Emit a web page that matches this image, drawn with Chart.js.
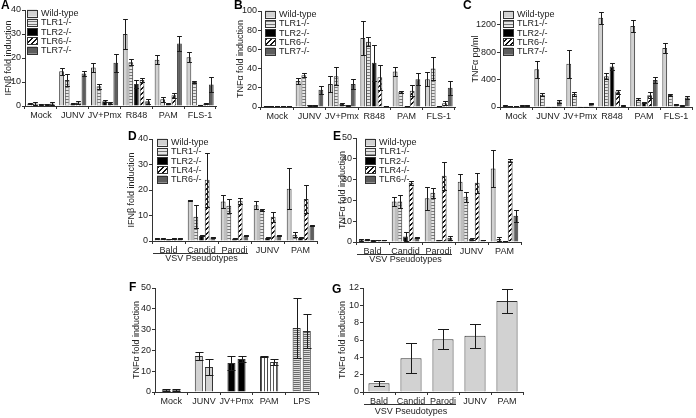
<!DOCTYPE html>
<html>
<head>
<meta charset="utf-8">
<script src="https://cdn.jsdelivr.net/npm/chart.js@4.4.1/dist/chart.umd.min.js"></script>
<style>
  body { margin: 0; background: #fff; }
  #page { position: relative; width: 696px; height: 418px; overflow: hidden; }
  #page canvas { position: absolute; }
</style>
</head>
<body>
<div id="page"></div>
<script>
// ---- Data ----
const aCategories = ['Mock', 'JUNV', 'JV+Pmx', 'R848', 'PAM', 'FLS-1'];
const aWT = [1, 14.5, 16, 30, 19.3, 20.3];
const aWTErr = [0.3, 1.5, 2, 6.3, 2, 2];
const aTLR1 = [1, 10.8, 8.2, 18.2, 2.8, 10];
const aTLR1Err = [0.5, 2.5, 1, 1.3, 1, 0.3];
const aTLR2 = [0.8, 1, 2, 9.2, 1, 0.5];
const aTLR2Err = [0.2, 0.3, 0.3, 1.5, 0.2, 0.1];
const aTLR6 = [0.8, 1.5, 1.2, 10.8, 4.5, 1];
const aTLR6Err = [0.2, 0.5, 0.3, 1, 1, 0.3];
const aTLR7 = [1, 13.5, 18, 2, 26, 9];
const aTLR7Err = [0.5, 1, 3.7, 1, 3, 3];

const bWT = [1, 27, 24, 72, 37, 29];
const bWTErr = [0.3, 3.5, 8, 18, 5, 7.5];
const bTLR1 = [1, 33, 32, 68, 16, 40];
const bTLR1Err = [0.2, 2, 9.5, 4.5, 1, 12];
const bTLR2 = [1, 2, 3, 46, 1, 1];
const bTLR2Err = [0.2, 0.5, 1, 19, 0.3, 0.3];
const bTLR6 = [1, 2, 2, 31, 17, 4];
const bTLR6Err = [0.2, 0.5, 0.5, 13, 5.5, 2];
const bTLR7 = [1, 18, 24, 1, 29, 20];
const bTLR7Err = [0.2, 4, 5, 0.2, 6.5, 7];

const cWT = [20, 550, 630, 1300, 1180, 860];
const cWTErr = [5, 120, 200, 85, 85, 70];
const cTLR1 = [15, 180, 190, 450, 110, 175];
const cTLR1Err = [3, 25, 25, 45, 15, 10];
const cTLR2 = [10, 5, 5, 590, 65, 40];
const cTLR2Err = [2, 2, 2, 50, 8, 5];
const cTLR6 = [20, 5, 5, 225, 170, 25];
const cTLR6Err = [3, 2, 2, 30, 45, 5];
const cTLR7 = [25, 80, 55, 20, 395, 140];
const cTLR7Err = [5, 15, 10, 5, 40, 20];

const vsvCategories = ['Bald', 'Candid', 'Parodi', 'JUNV', 'PAM'];
const dWT = [1, 16, 15.5, 14, 20.5];
const dWTErr = [0.2, 0.2, 2.5, 1.5, 8];
const dTLR1 = [1, 9.5, 13.8, 12.2, 2.5];
const dTLR1Err = [0.2, 4.5, 2.8, 0.3, 1];
const dTLR2 = [0.8, 2, 1, 1.2, 1.3];
const dTLR2Err = [0.1, 0.2, 0.2, 0.2, 0.2];
const dTLR4 = [1, 24, 15.8, 9.5, 16.5];
const dTLR4Err = [0.2, 10.5, 1.2, 2, 5.5];
const dTLR6 = [1, 1.5, 2, 2, 6];
const dTLR6Err = [0.1, 0.2, 0.2, 0.2, 0.3];

const eWT = [1, 19.5, 21, 29, 35.3];
const eWTErr = [0.3, 2, 5.5, 3.8, 8.7];
const eTLR1 = [1.2, 19.5, 23.7, 21.8, 1.5];
const eTLR1Err = [0.3, 3, 2.5, 2.4, 0.8];
const eTLR2 = [0.8, 2.7, 1, 1.5, 0.5];
const eTLR2Err = [0.1, 2, 0.2, 0.5, 0.1];
const eTLR4 = [1, 28.5, 31.9, 28.5, 39.1];
const eTLR4Err = [0.2, 1, 6.7, 4.9, 0.6];
const eTLR6 = [1, 2.2, 2, 1, 12.6];
const eTLR6Err = [0.1, 0.3, 1, 0.2, 3];

const fCategories = ['Mock', 'JUNV', 'JV+Pmx', 'PAM', 'LPS'];
const fRep1 = [1, 17.3, 13.9, 17.1, 30.8];
const fRep1Err = [0.3, 2, 3.5, 0.2, 14.4];
const fRep2 = [1, 12, 15.9, 14.4, 29.3];
const fRep2Err = [0.3, 3.8, 1.6, 1.5, 8];

const gValues = [1, 3.9, 6.1, 6.5, 10.5];
const gErr = [0.3, 1.7, 1.15, 1.4, 1.4];

// ---- Styles ----
const FONT = '"Liberation Sans", Arial, sans-serif';
const AXIS = '#333';
const TEXT = '#222';
const LIGHT = '#d2d2d2';
const DARK = '#5e5e5e';
Chart.defaults.font.family = FONT;
Chart.defaults.font.size = 9;
Chart.defaults.color = TEXT;

function makePattern(w, h, draw) {
    const c = document.createElement('canvas');
    c.width = w;
    c.height = h;
    const g = c.getContext('2d');
    draw(g);
    return g.createPattern(c, 'repeat');
}

const hStripes = makePattern(1, 3, g => {
    g.fillStyle = '#e6e6e6'; g.fillRect(0, 0, 1, 3);
    g.fillStyle = '#777'; g.fillRect(0, 0, 1, 1);
});
const hatch = makePattern(5, 5, g => {
    g.fillStyle = '#fff'; g.fillRect(0, 0, 5, 5);
    g.fillStyle = '#111';
    for (let i = 0; i < 5; i++) {
        g.fillRect(4 - i, i, 1, 1);
        g.fillRect((5 - i) % 5, i, 1, 1);
    }
});
const vStripes = makePattern(3, 1, g => {
    g.fillStyle = '#fff'; g.fillRect(0, 0, 3, 1);
    g.fillStyle = '#555'; g.fillRect(0, 0, 1, 1);
});
const lpsStripes = makePattern(1, 2, g => {
    g.fillStyle = '#e0e0e0'; g.fillRect(0, 0, 1, 2);
    g.fillStyle = '#6a6a6a'; g.fillRect(0, 0, 1, 1);
});

// ---- Plugins ----
const errorBars = {
    id: 'errorBars',
    afterDatasetsDraw(chart) {
        const ctx = chart.ctx;
        const y = chart.scales.y;
        ctx.save();
        ctx.strokeStyle = '#1a1a1a';
        ctx.lineWidth = 1;
        chart.data.datasets.forEach((ds, i) => {
            if (!ds.errors) return;
            chart.getDatasetMeta(i).data.forEach((bar, j) => {
                const v = ds.data[j];
                const e = ds.errors[j];
                const top = Math.round(y.getPixelForValue(v + e)) + 0.5;
                const bot = Math.round(y.getPixelForValue(Math.max(0, v - e))) + 0.5;
                const x = Math.round(bar.x) + 0.5;
                const cap = Math.min(bar.width / 2, 5.5);
                ctx.beginPath();
                ctx.moveTo(x, top); ctx.lineTo(x, bot);
                ctx.moveTo(x - cap, top); ctx.lineTo(x + cap, top);
                ctx.moveTo(x - cap, bot); ctx.lineTo(x + cap, bot);
                ctx.stroke();
            });
        });
        ctx.restore();
    }
};

// legend drawn inside the plot, one box per dataset
const boxLegend = {
    id: 'boxLegend',
    afterDraw(chart, args, opts) {
        if (!opts.show) return;
        const ctx = chart.ctx;
        ctx.save();
        ctx.font = '9px ' + FONT;
        ctx.textBaseline = 'middle';
        chart.data.datasets.forEach((ds, i) => {
            const cy = opts.y + i * opts.step;
            ctx.fillStyle = ds.backgroundColor;
            ctx.fillRect(opts.x, cy - 3.5, 10, 7);
            ctx.strokeStyle = AXIS;
            ctx.lineWidth = 1;
            ctx.strokeRect(opts.x + 0.5, Math.round(cy - 3.5) + 0.5, 10, 7);
            ctx.fillStyle = TEXT;
            ctx.fillText(ds.label, opts.x + 14, cy + 0.5);
        });
        ctx.restore();
    }
};

// panel letter and the "VSV Pseudotypes" bracket
const panelLabel = {
    id: 'panelLabel',
    afterDraw(chart, args, opts) {
        const ctx = chart.ctx;
        ctx.save();
        ctx.fillStyle = '#000';
        ctx.font = 'bold 12px ' + FONT;
        ctx.textBaseline = 'top';
        ctx.fillText(opts.letter, opts.lx, opts.ly);
        if (opts.vsv) {
            const x = chart.scales.x;
            const group = (x.right - x.left) / x.ticks.length;
            const yLine = Math.round(x.top + 12) + 0.5;
            ctx.strokeStyle = AXIS;
            ctx.lineWidth = 1;
            ctx.beginPath();
            ctx.moveTo(x.left + 1, yLine);
            ctx.lineTo(x.left + group * 3 - 3, yLine);
            ctx.stroke();
            ctx.font = '9px ' + FONT;
            ctx.fillStyle = TEXT;
            ctx.textAlign = 'center';
            ctx.textBaseline = 'middle';
            ctx.fillText('VSV Pseudotypes', x.getPixelForTick(1), x.top + opts.vsvDy);
        }
        ctx.restore();
    }
};

// ---- Panel builder ----
function makePanel(p) {
    const canvas = document.createElement('canvas');
    canvas.width = p.w;
    canvas.height = p.h;
    canvas.style.left = p.x + 'px';
    canvas.style.top = p.y + 'px';
    document.getElementById('page').appendChild(canvas);

    const datasets = p.series.map(s => ({
        label: s.label,
        data: s.data,
        errors: s.errors,
        backgroundColor: s.color,
        borderColor: AXIS,
        borderWidth: 1,
        categoryPercentage: p.catPct,
        barPercentage: p.barPct
    }));

    return new Chart(canvas, {
        type: 'bar',
        data: { labels: p.labels, datasets: datasets },
        options: {
            responsive: false,
            animation: false,
            events: [],
            layout: { padding: { left: p.padLeft, top: p.top, right: p.w - p.right, bottom: 0 } },
            plugins: {
                legend: { display: false },
                tooltip: { enabled: false },
                boxLegend: { show: !!p.legend, x: p.legend ? p.legend.x : 0, y: p.legend ? p.legend.y : 0, step: 9.3 },
                panelLabel: { letter: p.letter, lx: p.lx, ly: p.ly, vsv: !!p.vsv, vsvDy: p.vsvDy || 18 }
            },
            scales: {
                x: {
                    offset: true,
                    grid: { offset: true, drawOnChartArea: false, tickLength: 3, color: AXIS },
                    border: { color: AXIS },
                    ticks: { color: TEXT, font: { size: 9 }, padding: 1, maxRotation: 0, autoSkip: false },
                    afterFit(s) { s.height = p.h - p.bottom; }
                },
                y: {
                    min: 0,
                    max: p.max,
                    ticks: { stepSize: p.step, color: TEXT, font: { size: 9 }, padding: 1, callback: v => String(v) },
                    grid: { drawOnChartArea: false, tickLength: 3, color: AXIS },
                    border: { color: AXIS },
                    title: { display: true, text: p.yTitle, color: TEXT, font: { size: 9 }, padding: 0 },
                    afterFit(s) { s.width = p.left - p.padLeft; }
                }
            }
        },
        plugins: [errorBars, boxLegend, panelLabel]
    });
}

// ---- Panels ----
makePanel({
    x: 0, y: 0, w: 235, h: 125, left: 25, right: 216, top: 10, bottom: 106, padLeft: 3,
    letter: 'A', lx: 1, ly: 0, max: 40, step: 10, yTitle: 'IFNβ fold induction',
    labels: aCategories, catPct: 0.88, barPct: 0.85, legend: { x: 27, y: 13 },
    series: [
        { label: 'Wild-type', data: aWT, errors: aWTErr, color: LIGHT },
        { label: 'TLR1-/-', data: aTLR1, errors: aTLR1Err, color: hStripes },
        { label: 'TLR2-/-', data: aTLR2, errors: aTLR2Err, color: '#000' },
        { label: 'TLR6-/-', data: aTLR6, errors: aTLR6Err, color: hatch },
        { label: 'TLR7-/-', data: aTLR7, errors: aTLR7Err, color: DARK }
    ]
});

makePanel({
    x: 230, y: 0, w: 235, h: 125, left: 31, right: 225, top: 11, bottom: 107, padLeft: 5,
    letter: 'B', lx: 4, ly: 0, max: 100, step: 20, yTitle: 'TNFα fold induction',
    labels: aCategories, catPct: 0.88, barPct: 0.85, legend: { x: 35, y: 14 },
    series: [
        { label: 'Wild-type', data: bWT, errors: bWTErr, color: LIGHT },
        { label: 'TLR1-/-', data: bTLR1, errors: bTLR1Err, color: hStripes },
        { label: 'TLR2-/-', data: bTLR2, errors: bTLR2Err, color: '#000' },
        { label: 'TLR6-/-', data: bTLR6, errors: bTLR6Err, color: hatch },
        { label: 'TLR7-/-', data: bTLR7, errors: bTLR7Err, color: DARK }
    ]
});

makePanel({
    x: 460, y: 0, w: 236, h: 125, left: 40, right: 232, top: 11, bottom: 107, padLeft: 10,
    letter: 'C', lx: 3, ly: 0, max: 1400, step: 200, yTitle: 'TNFα pg/ml',
    labels: aCategories, catPct: 0.88, barPct: 0.85, legend: { x: 43, y: 14 },
    series: [
        { label: 'Wild-type', data: cWT, errors: cWTErr, color: LIGHT },
        { label: 'TLR1-/-', data: cTLR1, errors: cTLR1Err, color: hStripes },
        { label: 'TLR2-/-', data: cTLR2, errors: cTLR2Err, color: '#000' },
        { label: 'TLR6-/-', data: cTLR6, errors: cTLR6Err, color: hatch },
        { label: 'TLR7-/-', data: cTLR7, errors: cTLR7Err, color: DARK }
    ]
});

makePanel({
    x: 120, y: 130, w: 210, h: 140, left: 32, right: 197, top: 9, bottom: 111, padLeft: 6,
    letter: 'D', lx: 8, ly: 1, max: 40, step: 10, yTitle: 'IFNβ fold induction',
    labels: vsvCategories, catPct: 0.86, barPct: 0.85, legend: { x: 37, y: 12 }, vsv: true,
    series: [
        { label: 'Wild-type', data: dWT, errors: dWTErr, color: LIGHT },
        { label: 'TLR1-/-', data: dTLR1, errors: dTLR1Err, color: hStripes },
        { label: 'TLR2-/-', data: dTLR2, errors: dTLR2Err, color: '#000' },
        { label: 'TLR4-/-', data: dTLR4, errors: dTLR4Err, color: hatch },
        { label: 'TLR6-/-', data: dTLR6, errors: dTLR6Err, color: DARK }
    ]
});

makePanel({
    x: 330, y: 130, w: 210, h: 140, left: 26, right: 191, top: 8, bottom: 112, padLeft: 7,
    letter: 'E', lx: 3, ly: 1, max: 50, step: 10, yTitle: 'TNFα fold induction',
    labels: vsvCategories, catPct: 0.86, barPct: 0.85, legend: { x: 35, y: 12 }, vsv: true,
    series: [
        { label: 'Wild-type', data: eWT, errors: eWTErr, color: LIGHT },
        { label: 'TLR1-/-', data: eTLR1, errors: eTLR1Err, color: hStripes },
        { label: 'TLR2-/-', data: eTLR2, errors: eTLR2Err, color: '#000' },
        { label: 'TLR4-/-', data: eTLR4, errors: eTLR4Err, color: hatch },
        { label: 'TLR6-/-', data: eTLR6, errors: eTLR6Err, color: DARK }
    ]
});

// panel F: colours vary by stimulus, two replicate bars each
const fColors = [LIGHT, LIGHT, '#000', vStripes, lpsStripes];
makePanel({
    x: 120, y: 280, w: 210, h: 138, left: 35, right: 198, top: 8, bottom: 112, padLeft: 11,
    letter: 'F', lx: 9, ly: 2, max: 50, step: 10, yTitle: 'TNFα fold induction',
    labels: fCategories, catPct: 0.62, barPct: 0.8,
    series: [
        { label: 'rep1', data: fRep1, errors: fRep1Err, color: fColors },
        { label: 'rep2', data: fRep2, errors: fRep2Err, color: fColors }
    ]
});

makePanel({
    x: 330, y: 280, w: 200, h: 138, left: 33, right: 193, top: 8, bottom: 112, padLeft: 7,
    letter: 'G', lx: 2, ly: 4, max: 12, step: 2, yTitle: 'TNFα fold induction',
    labels: vsvCategories, catPct: 0.66, barPct: 1, vsv: true, vsvDy: 20,
    series: [
        { label: 'TNF', data: gValues, errors: gErr, color: LIGHT }
    ]
});
</script>
</body>
</html>
